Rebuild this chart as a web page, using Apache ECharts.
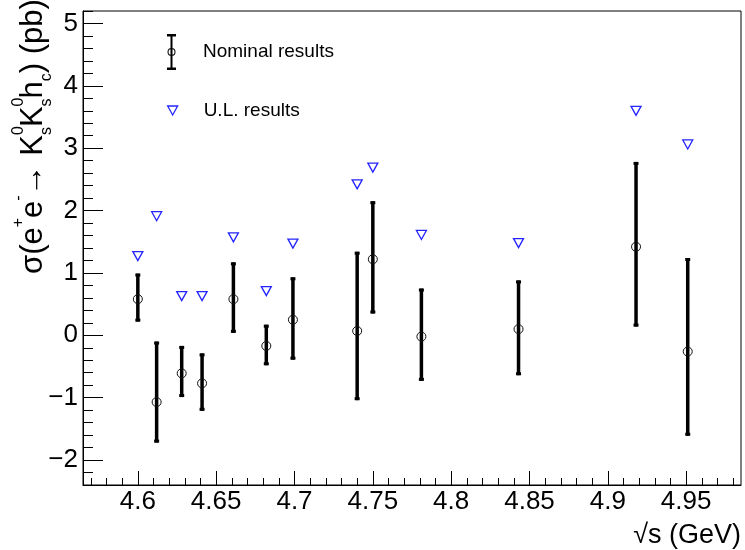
<!DOCTYPE html>
<html>
<head>
<meta charset="utf-8">
<script src="https://cdn.jsdelivr.net/npm/echarts@6/dist/echarts.min.js"></script>
<style>
html,body{margin:0;padding:0;background:#fff;}
#chart{width:745px;height:550px;}
</style>
</head>
<body>
<div id="chart"></div>
<script>
// ---- data ----
const energy = [4.600, 4.612, 4.628, 4.641, 4.661, 4.682, 4.699, 4.740, 4.750, 4.781, 4.843, 4.918, 4.951];
const central = [0.58, -1.07, -0.61, -0.77, 0.58, -0.17, 0.25, 0.07, 1.22, -0.02, 0.10, 1.42, -0.26];
const lower = [0.22, -1.72, -0.99, -1.21, 0.04, -0.48, -0.39, -1.04, 0.35, -0.73, -0.64, 0.14, -1.61];
const upper = [0.99, -0.10, -0.17, -0.29, 1.17, 0.17, 0.93, 1.34, 2.15, 0.75, 0.88, 2.78, 1.24];
const upperLimit = [1.27, 1.91, 0.63, 0.63, 1.57, 0.71, 1.47, 2.42, 2.69, 1.61, 1.48, 3.60, 3.06];

const xMajorTicks = [4.60, 4.65, 4.70, 4.75, 4.80, 4.85, 4.90, 4.95];
const yMajorTicks = [-2, -1, 0, 1, 2, 3, 4, 5];
const xRange = [4.565, 4.985];
const yRange = [-2.4, 5.2];

// minor tick positions (every 0.01 in x, 0.2 in y), skipping majors
const xMinorTicks = [];
for (let k = 457; k <= 498; k++) { if (k % 5 !== 0) xMinorTicks.push(k / 100); }
const yMinorTicks = [];
for (let k = -12; k <= 26; k++) { if (k % 5 !== 0) yMinorTicks.push(k / 5); }

const FONT = '"Liberation Sans", Arial, Helvetica, sans-serif';
const blue = '#2424ff';

const nominalIcon = 'path://M0,0H9V2.5H5.5V33.5H9V36H0V33.5H3.5V2.5H0Z' +
  'M0.5,18A4,4 0 1,1 8.5,18A4,4 0 1,1 0.5,18Z' +
  'M1.5,18A3,3 0 1,0 7.5,18A3,3 0 1,0 1.5,18Z';
const triIcon = 'path://M0,0L10,0L5,9Z';

const fmtX = v => String(parseFloat(Number(v).toFixed(2)));
const fmtY = v => (v < 0 ? '\u2212' + Math.abs(v) : String(v));

const gridBox = {left: 83, top: 11, right: 4, bottom: 65};

const option = {
  animation: false,
  backgroundColor: '#fff',
  grid: [
    Object.assign({show: true, borderColor: '#000', borderWidth: 1, backgroundColor: 'transparent'}, gridBox),
    Object.assign({show: false}, gridBox)
  ],
  xAxis: [
    {
      type: 'value', gridIndex: 0, min: xRange[0], max: xRange[1], position: 'bottom',
      axisLine: {show: true, onZero: false, lineStyle: {color: '#000', width: 1}},
      axisTick: {show: true, inside: true, length: 14, customValues: xMajorTicks, lineStyle: {color: '#000', width: 1}},
      axisLabel: {show: true, customValues: xMajorTicks, formatter: fmtX, margin: 4,
        fontSize: 26, fontFamily: FONT, color: '#000'},
      splitLine: {show: false}
    },
    {
      type: 'value', gridIndex: 1, min: xRange[0], max: xRange[1], position: 'bottom',
      axisLine: {show: false, onZero: false},
      axisTick: {show: true, inside: true, length: 7, customValues: xMinorTicks, lineStyle: {color: '#000', width: 1}},
      axisLabel: {show: false},
      splitLine: {show: false}
    }
  ],
  yAxis: [
    {
      type: 'value', gridIndex: 0, min: yRange[0], max: yRange[1], position: 'left',
      axisLine: {show: true, onZero: false, lineStyle: {color: '#000', width: 1}},
      axisTick: {show: true, inside: true, length: 20, customValues: yMajorTicks, lineStyle: {color: '#000', width: 1}},
      axisLabel: {show: true, customValues: yMajorTicks, formatter: fmtY, margin: 5,
        fontSize: 26, fontFamily: FONT, color: '#000'},
      splitLine: {show: false}
    },
    {
      type: 'value', gridIndex: 1, min: yRange[0], max: yRange[1], position: 'left',
      axisLine: {show: false, onZero: false},
      axisTick: {show: true, inside: true, length: 10, customValues: yMinorTicks, lineStyle: {color: '#000', width: 1}},
      axisLabel: {show: false},
      splitLine: {show: false}
    }
  ],
  legend: [
    {
      data: [{name: 'Nominal results', icon: nominalIcon,
        itemStyle: {color: '#000', borderColor: '#000', borderWidth: 0}}],
      left: 167, top: 34, padding: 0, itemWidth: 9, itemHeight: 36,
      selectedMode: false,
      textStyle: {fontSize: 19, fontFamily: FONT, color: '#000', padding: [0, 0, 0, 22]}
    },
    {
      data: [{name: 'U.L. results', icon: triIcon,
        itemStyle: {color: 'rgba(0,0,0,0)', borderColor: blue, borderWidth: 1.3}}],
      left: 167, top: 101, padding: 0, itemWidth: 10, itemHeight: 9,
      selectedMode: false,
      textStyle: {fontSize: 19, fontFamily: FONT, color: '#000', padding: [0, 0, 0, 21]}
    }
  ],
  series: [
    {
      name: 'Nominal results',
      type: 'custom',
      xAxisIndex: 0, yAxisIndex: 0,
      data: energy.map((e, i) => [e, lower[i], upper[i]]),
      encode: {x: 0, y: [1, 2]},
      silent: true,
      z: 3,
      renderItem: function (params, api) {
        const x = api.value(0);
        const lo = api.coord([x, api.value(1)]);
        const hi = api.coord([x, api.value(2)]);
        return {
          type: 'group',
          children: [
            {type: 'rect', shape: {x: lo[0] - 1.75, y: hi[1], width: 3.5, height: lo[1] - hi[1]}, style: {fill: '#000'}},
            {type: 'rect', shape: {x: hi[0] - 2.5, y: hi[1], width: 5, height: 3}, style: {fill: '#000'}},
            {type: 'rect', shape: {x: lo[0] - 2.5, y: lo[1] - 3, width: 5, height: 3}, style: {fill: '#000'}}
          ]
        };
      }
    },
    {
      name: 'Nominal results',
      type: 'scatter',
      xAxisIndex: 0, yAxisIndex: 0,
      data: energy.map((e, i) => [e, central[i]]),
      symbol: 'circle',
      symbolSize: 9,
      silent: true,
      z: 4,
      itemStyle: {color: 'rgba(0,0,0,0)', borderColor: '#111', borderWidth: 1, opacity: 1}
    },
    {
      name: 'U.L. results',
      type: 'scatter',
      xAxisIndex: 0, yAxisIndex: 0,
      data: energy.map((e, i) => [e, upperLimit[i]]),
      symbol: triIcon,
      symbolSize: [10, 9],
      silent: true,
      z: 4,
      itemStyle: {color: 'rgba(0,0,0,0)', borderColor: blue, borderWidth: 1.3, opacity: 1}
    }
  ],
  graphic: [
    {
      type: 'text',
      right: 4, top: 522,
      style: {text: '\u221As (GeV)', font: '27px ' + FONT, fill: '#000'}
    },
    {
      type: 'text',
      x: 11, y: 274,
      rotation: Math.PI / 2,
      style: {
        text: '{m|\u03C3(e}{sup|+}{m|e}{sup|-}{m|\u2192 K}{supz|0}{sub|s}{m|K}{supz|0}{sub|s}{m|h}{sub|c}{m|) (pb)}',
        align: 'left',
        verticalAlign: 'top',
        fill: '#000',
        rich: {
          m: {fontSize: 31, lineHeight: 44, fontFamily: FONT, fill: '#000'},
          sup: {fontSize: 16, lineHeight: 20, verticalAlign: 'top', fontFamily: FONT, fill: '#000'},
          supz: {fontSize: 16, lineHeight: 20, verticalAlign: 'top', width: 0.001, fontFamily: FONT, fill: '#000'},
          sub: {fontSize: 16, lineHeight: 26, verticalAlign: 'bottom', fontFamily: FONT, fill: '#000'}
        }
      }
    }
  ]
};

const chart = echarts.init(document.getElementById('chart'), null, {renderer: 'canvas'});
chart.setOption(option);
</script>
</body>
</html>
